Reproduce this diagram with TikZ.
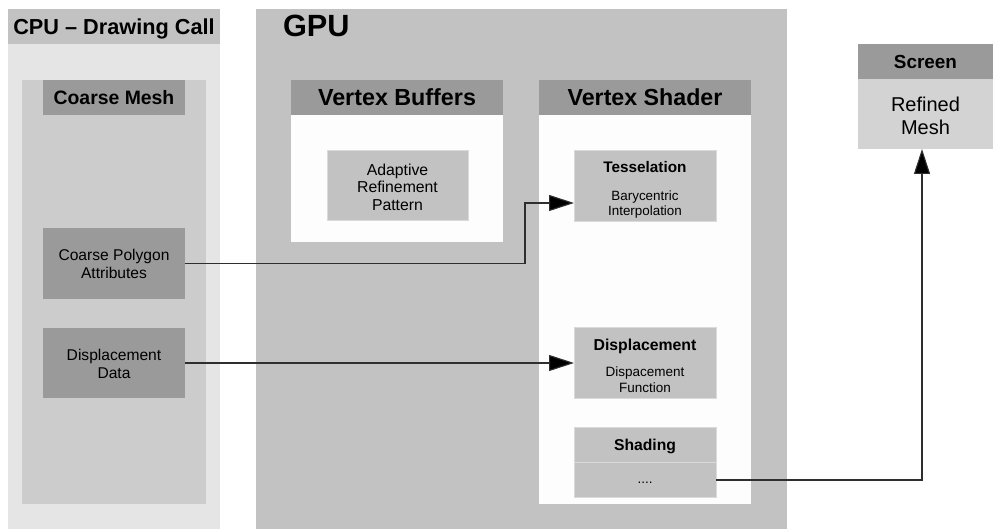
\documentclass[tikz,border=0pt]{standalone}
\usepackage{fontspec}
\setmainfont{Liberation Sans}
\usetikzlibrary{arrows.meta}
\definecolor{cpuouter}{HTML}{E5E5E5}
\definecolor{cpuinner}{HTML}{CCCCCC}
\definecolor{gpubg}{HTML}{C2C2C2}
\definecolor{darkbox}{HTML}{9A9A9A}
\definecolor{midbox}{HTML}{C2C2C2}
\definecolor{whitebody}{HTML}{FDFDFD}
\definecolor{screenbody}{HTML}{D3D3D3}
\definecolor{edgeline}{HTML}{DADADA}
\definecolor{wire}{HTML}{2E2E2E}
\tikzset{
  rect/.style={anchor=north west, inner sep=0pt, outer sep=0pt, fill=#1, draw=none},
  lbox/.style={rect=midbox, draw=edgeline, line width=0.8pt},
  txt/.style={inner sep=0pt, outer sep=0pt, align=center, text=black},
  wirestyle/.style={draw=wire, line width=1.1pt, -{Triangle[length=25pt,width=16pt,fill=black]}},
}
\newcommand{\fs}[2]{\fontsize{#1}{#2}\selectfont}
\begin{document}
\begin{tikzpicture}[x=1pt,y=-1pt]
\useasboundingbox (0,0) rectangle (993,529);
\fill[white] (0,0) rectangle (993,529);
% CPU panel
\node[rect=cpuouter, minimum width=212pt, minimum height=485pt] (cpubody) at (8,44) {};
\node[rect=gpubg, minimum width=212pt, minimum height=35pt] (cpuhead) at (8,9) {};
\node[rect=cpuinner, minimum width=184pt, minimum height=424pt] (cminner) at (22,80) {};
\node[rect=darkbox, minimum width=142pt, minimum height=35pt] (cmhead) at (43,80) {};
\node[rect=darkbox, minimum width=142pt, minimum height=71pt] (cpa) at (43,228) {};
\node[rect=darkbox, minimum width=142pt, minimum height=70pt] (dd) at (43,328) {};
\node[txt, font=\fs{21.7}{24}\bfseries, text height=15.5pt, text depth=0pt] (cputxt) at (114,26.5) {CPU – Drawing Call};
\node[txt, font=\fs{19.4}{22}\bfseries, text height=13.9pt, text depth=0pt] (cmtxt) at (114,97.5) {Coarse Mesh};
\node[txt, font=\fs{15.6}{18}] (cpatxt) at (114,264) {Coarse Polygon\\Attributes};
\node[txt, font=\fs{15.6}{18}] (ddtxt) at (114,363.5) {Displacement\\Data};
% GPU panel
\node[rect=gpubg, minimum width=531pt, minimum height=520pt] (gpu) at (256,9) {};
\node[txt, anchor=west, font=\fs{30.7}{34}\bfseries, text height=22pt, text depth=0pt] (gputxt) at (283,26) {GPU};
% Vertex buffers
\node[rect=darkbox, minimum width=212pt, minimum height=35pt] (vbhead) at (291,80) {};
\node[rect=whitebody, minimum width=212pt, minimum height=127pt] (vbbody) at (291,115) {};
\node[lbox, minimum width=141pt, minimum height=70pt] (arp) at (327,150) {};
\node[txt, font=\fs{23.3}{26}\bfseries, text height=16.7pt, text depth=0pt] (vbtxt) at (397,97.5) {Vertex Buffers};
\node[txt, font=\fs{15.8}{17.5}] (arptxt) at (397.5,187) {Adaptive\\Refinement\\Pattern};
% Vertex shader
\node[rect=darkbox, minimum width=212pt, minimum height=35pt] (vshead) at (539,80) {};
\node[rect=whitebody, minimum width=212pt, minimum height=389pt] (vsbody) at (539,115) {};
\node[lbox, minimum width=142pt, minimum height=71pt] (tess) at (574,150) {};
\node[lbox, minimum width=142pt, minimum height=71pt] (disp) at (574,327) {};
\node[lbox, minimum width=142pt, minimum height=70pt] (shade) at (574,427) {};
\draw[edgeline, line width=0.8pt] (shade.west |- 0,462) -- (shade.east |- 0,462);
\node[txt, font=\fs{23.2}{26}\bfseries, text height=16.6pt, text depth=0pt] (vstxt) at (645,97.5) {Vertex Shader};
\node[txt, font=\fs{15.3}{17}\bfseries, text height=11pt, text depth=0pt] (tesstxt) at (645,167) {Tesselation};
\node[txt, font=\fs{13.4}{15}] (tesssub) at (645,205) {Barycentric\\Interpolation};
\node[txt, font=\fs{15.8}{17}\bfseries, text height=11.3pt, text depth=0pt] (disptxt) at (645,345) {Displacement};
\node[txt, font=\fs{13.5}{16}] (dispsub) at (645,379.5) {Dispacement\\Function};
\node[txt, font=\fs{15.7}{17}\bfseries, text height=11.2pt, text depth=0pt] (shadetxt) at (645,444.5) {Shading};
\node[txt, font=\fs{13.5}{16}, text height=2pt, text depth=0pt] (shadesub) at (645,482) {....};
% Screen
\node[rect=darkbox, minimum width=135pt, minimum height=35pt] (scrhead) at (858,44) {};
\node[rect=screenbody, minimum width=135pt, minimum height=70pt] (scr) at (858,79) {};
\node[txt, font=\fs{18.9}{21}\bfseries, text height=13.5pt, text depth=0pt] (scrtxt) at (925.5,61.5) {Screen};
\node[txt, font=\fs{20}{22.5}] (scrsub) at (925.5,116) {Refined\\Mesh};
% connectors
\coordinate (bend) at (525,0);
\coordinate (tessin) at (574,203);
\coordinate (shadeout) at (716,480);
\coordinate (scrin) at (922,149);
\draw[wirestyle] (cpa.east) -| (bend |- tessin) -- (tessin);
\draw[wirestyle] (dd.east) -- (dd.east -| disp.west);
\draw[wirestyle] (shadeout) -| (scrin);
\end{tikzpicture}
\end{document}
